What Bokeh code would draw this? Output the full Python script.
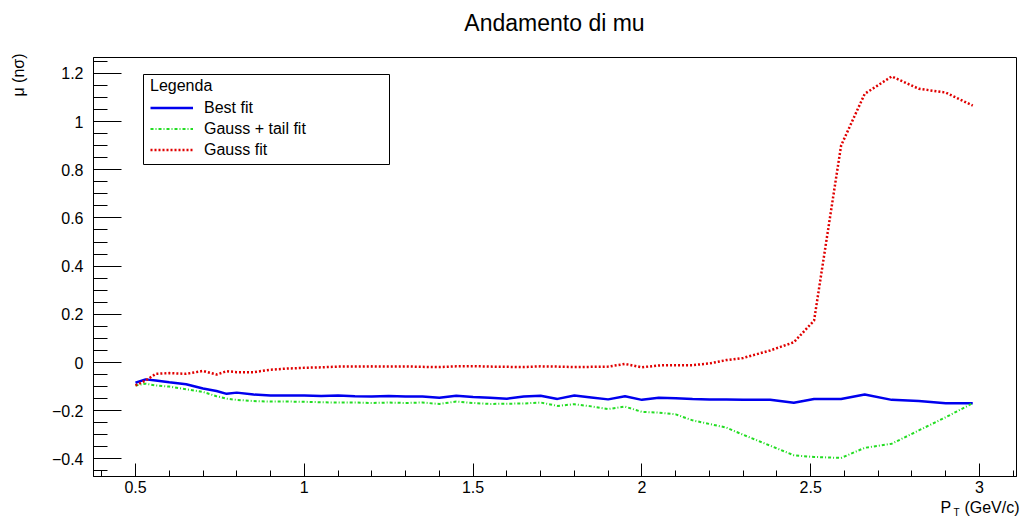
import numpy as np
from bokeh.plotting import figure
from bokeh.layouts import row, column
from bokeh.models import Range1d, FixedTicker, Label, Legend, LegendItem, BoxAnnotation
from bokeh.embed import file_html
from bokeh.resources import INLINE

# ---------------- data ----------------
PT = [0.50, 0.53, 0.56, 0.60, 0.65, 0.70, 0.74, 0.77, 0.80, 0.85,
      0.90, 0.95, 1.00, 1.05, 1.10, 1.15, 1.20, 1.25, 1.30, 1.35,
      1.40, 1.45, 1.50, 1.55, 1.60, 1.65, 1.70, 1.75, 1.80, 1.85,
      1.90, 1.95, 2.00, 2.05, 2.10, 2.15, 2.20, 2.25, 2.30, 2.38,
      2.45, 2.51, 2.59, 2.66, 2.74, 2.82, 2.90, 2.98]

MU_BEST = [-0.084, -0.070, -0.075, -0.082, -0.090, -0.108, -0.118, -0.130, -0.125, -0.133,
           -0.137, -0.137, -0.137, -0.139, -0.137, -0.140, -0.141, -0.139, -0.141, -0.141,
           -0.146, -0.138, -0.143, -0.146, -0.150, -0.141, -0.138, -0.151, -0.137, -0.145,
           -0.153, -0.140, -0.155, -0.146, -0.148, -0.151, -0.153, -0.154, -0.155, -0.155,
           -0.167, -0.151, -0.151, -0.133, -0.155, -0.160, -0.169, -0.169]

MU_GAUSS_TAIL = [-0.095, -0.088, -0.095, -0.100, -0.111, -0.122, -0.140, -0.150, -0.155, -0.160,
                 -0.162, -0.162, -0.163, -0.165, -0.166, -0.166, -0.168, -0.166, -0.168, -0.166,
                 -0.172, -0.162, -0.168, -0.172, -0.171, -0.170, -0.166, -0.180, -0.173, -0.182,
                 -0.193, -0.183, -0.205, -0.208, -0.215, -0.240, -0.255, -0.270, -0.300, -0.345,
                 -0.385, -0.392, -0.396, -0.354, -0.337, -0.282, -0.227, -0.169]

MU_GAUSS = [-0.095, -0.075, -0.047, -0.044, -0.047, -0.035, -0.050, -0.036, -0.040, -0.040,
            -0.030, -0.025, -0.022, -0.020, -0.017, -0.017, -0.016, -0.017, -0.016, -0.018,
            -0.019, -0.016, -0.015, -0.017, -0.018, -0.019, -0.016, -0.017, -0.019, -0.018,
            -0.017, -0.006, -0.020, -0.012, -0.011, -0.011, -0.004, 0.010, 0.019, 0.050,
            0.084, 0.174, 0.900, 1.115, 1.187, 1.136, 1.120, 1.066]

SERIES_NAMES = ["Best fit", "Gauss + tail fit", "Gauss fit"]

X_TICKS = [0.5, 1.0, 1.5, 2.0, 2.5, 3.0]
X_TICK_LABELS = ["0.5", "1", "1.5", "2", "2.5", "3"]
Y_TICKS = [-0.4, -0.2, 0.0, 0.2, 0.4, 0.6, 0.8, 1.0, 1.2]
Y_TICK_LABELS = ["\u22120.4", "\u22120.2", "0", "0.2", "0.4", "0.6", "0.8", "1", "1.2"]

TITLE = "Andamento di mu"
Y_LABEL = "\u03bc (n\u03c3)"
LEGEND_TITLE = "Legenda"

# ---------------- layout (pixels of the 1021x517 page) ----------------
W, H = 1021, 517
LEFT_W = 30          # strip holding the y-axis title
TOP_H = 40           # strip holding the main title
BOTTOM_H = 18        # strip holding the x-axis title
FL, FR, FT, FB = 93, 1016, 57, 476   # frame edges on the page
X0, X1 = 0.3756, 3.1096
Y0, Y1 = -0.473, 1.2656
FONT = "Liberation Sans"

main_w = W - LEFT_W
main_h = H - TOP_H - BOTTOM_H


def px2x(px):
    return X0 + (px - FL) / (FR - FL) * (X1 - X0)


def py2y(py):
    return Y1 - (py - FT) / (FB - FT) * (Y1 - Y0)


def no_frame_align(fig):
    try:
        fig.frame_align = False
    except Exception:
        pass


def strip(w, h):
    s = figure(width=w, height=h, x_range=Range1d(0, w), y_range=Range1d(0, h),
               output_backend="svg", toolbar_location=None,
               x_axis_location=None, y_axis_location=None,
               min_border=0, min_border_left=0, min_border_right=0,
               min_border_top=0, min_border_bottom=0)
    try:
        s.title_location = None
    except Exception:
        s.title.visible = False
    no_frame_align(s)
    s.xgrid.visible = False
    s.ygrid.visible = False
    s.outline_line_color = None
    s.background_fill_color = "white"
    s.border_fill_color = "white"
    return s


def text_label(x, y, text, size, align="left", baseline="alphabetic", angle=0.0):
    return Label(x=x, y=y, text=text, angle=angle, text_align=align,
                 text_baseline=baseline, text_font=FONT, text_font_size=size,
                 text_color="black")


p = figure(width=main_w, height=main_h, x_range=Range1d(X0, X1), y_range=Range1d(Y0, Y1),
           output_backend="svg", toolbar_location=None,
           min_border_left=FL - LEFT_W, min_border_right=W - FR,
           min_border_top=FT - TOP_H, min_border_bottom=(TOP_H + main_h) - FB)
try:
    p.title_location = None
except Exception:
    p.title.visible = False
no_frame_align(p)
p.background_fill_color = "white"
p.border_fill_color = "white"
p.outline_line_color = "black"
p.outline_line_width = 1
p.xgrid.visible = False
p.ygrid.visible = False

x_minor = np.round(np.arange(0.4, 3.11, 0.1), 3).tolist()
y_minor = np.round(np.arange(-0.45, 1.26, 0.05), 3).tolist()

p.xaxis.ticker = FixedTicker(ticks=X_TICKS, minor_ticks=x_minor)
p.yaxis.ticker = FixedTicker(ticks=Y_TICKS, minor_ticks=y_minor)
p.xaxis.major_label_overrides = {t: l for t, l in zip(X_TICKS, X_TICK_LABELS)}
p.yaxis.major_label_overrides = {t: l for t, l in zip(Y_TICKS, Y_TICK_LABELS)}

for ax, tin, tmin, stand in ((p.xaxis, 13, 6, 4), (p.yaxis, 28, 14, 10)):
    ax.major_tick_in = tin
    ax.major_tick_out = 0
    ax.minor_tick_in = tmin
    ax.minor_tick_out = 0
    ax.axis_line_color = "black"
    ax.major_tick_line_color = "black"
    ax.minor_tick_line_color = "black"
    ax.major_label_text_font = FONT
    ax.major_label_text_font_size = "16px"
    ax.major_label_text_color = "black"
    ax.major_label_standoff = stand

r_best = p.line(PT, MU_BEST, line_color="#0000ee", line_width=2.5)
r_tail = p.line(PT, MU_GAUSS_TAIL, line_color="#22dd22", line_width=2, line_dash="3 2 1 2")
r_gauss = p.line(PT, MU_GAUSS, line_color="#e00000", line_width=2.5, line_dash="2 2")

# legend frame (ROOT-style fixed-size box)
box = BoxAnnotation(left=px2x(143), right=px2x(389), top=py2y(74), bottom=py2y(164),
                    fill_color="white", fill_alpha=1.0, line_color="black",
                    line_alpha=1.0, line_width=1)
p.add_layout(box)

legend = Legend(items=[LegendItem(label=SERIES_NAMES[0], renderers=[r_best]),
                       LegendItem(label=SERIES_NAMES[1], renderers=[r_tail]),
                       LegendItem(label=SERIES_NAMES[2], renderers=[r_gauss])],
                title=LEGEND_TITLE, location=(57, FB - 160),
                title_text_font=FONT, title_text_font_size="16px", title_text_font_style="normal",
                title_text_color="black",
                label_text_font=FONT, label_text_font_size="16px", label_text_color="black",
                glyph_width=43, glyph_height=21, label_height=21, spacing=0,
                padding=0, margin=0, label_standoff=11, title_standoff=2,
                border_line_alpha=0, background_fill_alpha=0)
p.add_layout(legend)

# title strip (above the plot)
top = strip(main_w, TOP_H)
top.add_layout(text_label(554 - LEFT_W, TOP_H - 22, TITLE, "23px", align="center"))

# y-axis title strip (left), right-aligned at the top of the axis as in ROOT
left = strip(LEFT_W, H)
left.add_layout(text_label(18, H - 53, Y_LABEL, "16px", align="right",
                           baseline="middle", angle=np.pi / 2))

# x-axis title strip (below), right-aligned at the end of the axis
bottom = strip(main_w, BOTTOM_H)
bottom.add_layout(text_label(940 - LEFT_W, 10.5, "P", "16px"))
bottom.add_layout(text_label(953 - LEFT_W, 5.5, "T", "10px"))
bottom.add_layout(text_label(1019 - LEFT_W, 10.5, "(GeV/c)", "16px", align="right"))

layout = row(left, column(top, p, bottom, spacing=0), spacing=0)

open("out.html", "w").write(file_html(layout, INLINE))
